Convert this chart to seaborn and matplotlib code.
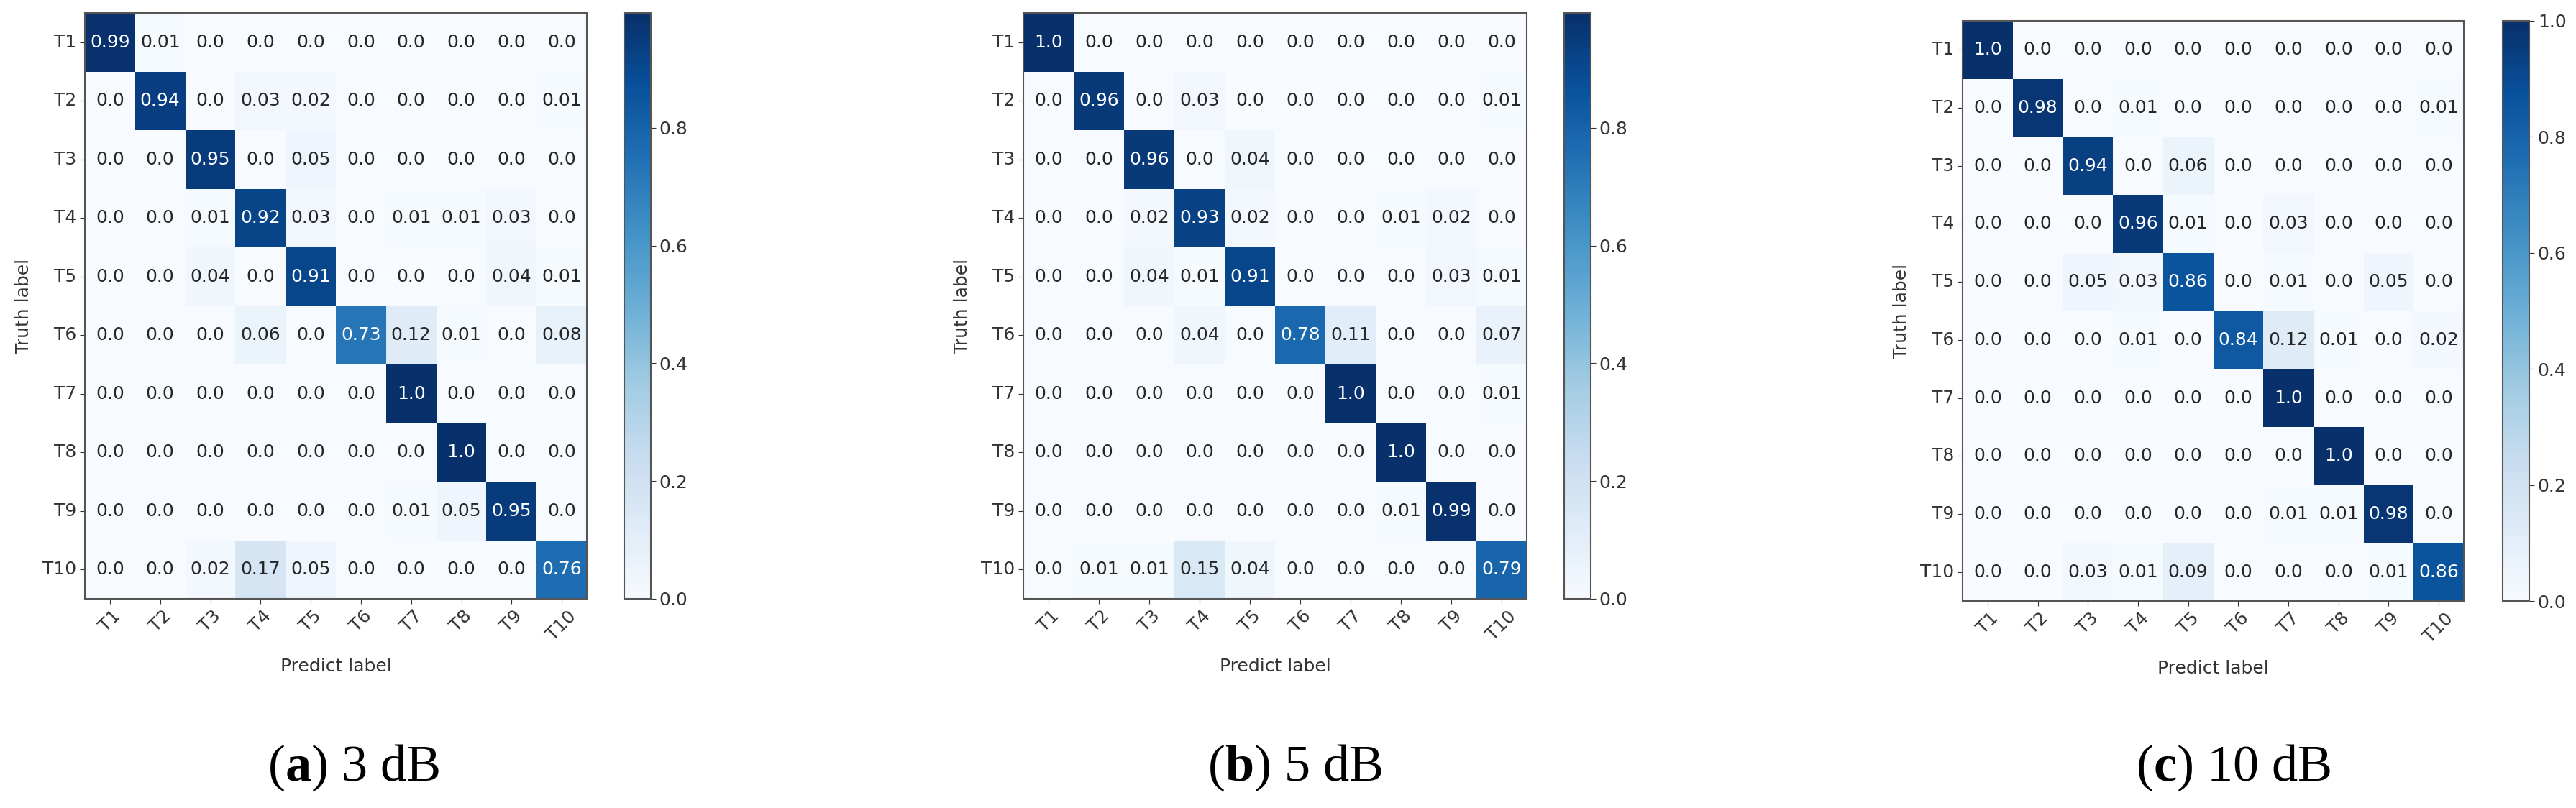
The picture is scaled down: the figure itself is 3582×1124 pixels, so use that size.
import numpy as np
import matplotlib
matplotlib.use("Agg")
import matplotlib.pyplot as plt
import seaborn as sns

classLabels = ["T1", "T2", "T3", "T4", "T5", "T6", "T7", "T8", "T9", "T10"]

# confusion matrices, rows = truth, cols = predicted
cm3dB = [
    [0.99, 0.01, 0.0, 0.0, 0.0, 0.0, 0.0, 0.0, 0.0, 0.0],
    [0.0, 0.94, 0.0, 0.03, 0.02, 0.0, 0.0, 0.0, 0.0, 0.01],
    [0.0, 0.0, 0.95, 0.0, 0.05, 0.0, 0.0, 0.0, 0.0, 0.0],
    [0.0, 0.0, 0.01, 0.92, 0.03, 0.0, 0.01, 0.01, 0.03, 0.0],
    [0.0, 0.0, 0.04, 0.0, 0.91, 0.0, 0.0, 0.0, 0.04, 0.01],
    [0.0, 0.0, 0.0, 0.06, 0.0, 0.73, 0.12, 0.01, 0.0, 0.08],
    [0.0, 0.0, 0.0, 0.0, 0.0, 0.0, 1.0, 0.0, 0.0, 0.0],
    [0.0, 0.0, 0.0, 0.0, 0.0, 0.0, 0.0, 1.0, 0.0, 0.0],
    [0.0, 0.0, 0.0, 0.0, 0.0, 0.0, 0.01, 0.05, 0.95, 0.0],
    [0.0, 0.0, 0.02, 0.17, 0.05, 0.0, 0.0, 0.0, 0.0, 0.76],
]

cm5dB = [
    [1.0, 0.0, 0.0, 0.0, 0.0, 0.0, 0.0, 0.0, 0.0, 0.0],
    [0.0, 0.96, 0.0, 0.03, 0.0, 0.0, 0.0, 0.0, 0.0, 0.01],
    [0.0, 0.0, 0.96, 0.0, 0.04, 0.0, 0.0, 0.0, 0.0, 0.0],
    [0.0, 0.0, 0.02, 0.93, 0.02, 0.0, 0.0, 0.01, 0.02, 0.0],
    [0.0, 0.0, 0.04, 0.01, 0.91, 0.0, 0.0, 0.0, 0.03, 0.01],
    [0.0, 0.0, 0.0, 0.04, 0.0, 0.78, 0.11, 0.0, 0.0, 0.07],
    [0.0, 0.0, 0.0, 0.0, 0.0, 0.0, 1.0, 0.0, 0.0, 0.01],
    [0.0, 0.0, 0.0, 0.0, 0.0, 0.0, 0.0, 1.0, 0.0, 0.0],
    [0.0, 0.0, 0.0, 0.0, 0.0, 0.0, 0.0, 0.01, 0.99, 0.0],
    [0.0, 0.01, 0.01, 0.15, 0.04, 0.0, 0.0, 0.0, 0.0, 0.79],
]

cm10dB = [
    [1.0, 0.0, 0.0, 0.0, 0.0, 0.0, 0.0, 0.0, 0.0, 0.0],
    [0.0, 0.98, 0.0, 0.01, 0.0, 0.0, 0.0, 0.0, 0.0, 0.01],
    [0.0, 0.0, 0.94, 0.0, 0.06, 0.0, 0.0, 0.0, 0.0, 0.0],
    [0.0, 0.0, 0.0, 0.96, 0.01, 0.0, 0.03, 0.0, 0.0, 0.0],
    [0.0, 0.0, 0.05, 0.03, 0.86, 0.0, 0.01, 0.0, 0.05, 0.0],
    [0.0, 0.0, 0.0, 0.01, 0.0, 0.84, 0.12, 0.01, 0.0, 0.02],
    [0.0, 0.0, 0.0, 0.0, 0.0, 0.0, 1.0, 0.0, 0.0, 0.0],
    [0.0, 0.0, 0.0, 0.0, 0.0, 0.0, 0.0, 1.0, 0.0, 0.0],
    [0.0, 0.0, 0.0, 0.0, 0.0, 0.0, 0.01, 0.01, 0.98, 0.0],
    [0.0, 0.0, 0.03, 0.01, 0.09, 0.0, 0.0, 0.0, 0.01, 0.86],
]

panelLetters = ["a", "b", "c"]
snrLabels = ["3 dB", "5 dB", "10 dB"]
cbarMax = [0.995, 0.995, 1.0]  # the first two colorbars stop just short of 1.0

plt.rcParams["font.family"] = ["DejaVu Sans"]
plt.rcParams["mathtext.fontset"] = "custom"
plt.rcParams["mathtext.rm"] = "Liberation Serif"
plt.rcParams["mathtext.bf"] = "Liberation Serif:bold"

W, H = 3582, 1124
fig = plt.figure(figsize=(W / 100, H / 100), dpi=100)

# pixel boxes (left, top, right, bottom) for each heatmap, and colorbar left edges
heatBoxes = [(118, 18, 816, 833), (1423, 18, 2123, 833), (2729, 29, 3426, 836)]
cbarLeft = [868, 2175, 3480]
cbarWidth = 37
captionX = [492, 1801, 3106]
textColor = "#333333"
frameColor = "#555555"
fontSize = 18


def toFig(x0, y0, x1, y1):
    return [x0 / W, 1 - y1 / H, (x1 - x0) / W, (y1 - y0) / H]


for i, cm in enumerate([cm3dB, cm5dB, cm10dB]):
    x0, y0, x1, y1 = heatBoxes[i]
    ax = fig.add_axes(toFig(x0, y0, x1, y1))
    cax = fig.add_axes(toFig(cbarLeft[i], y0, cbarLeft[i] + cbarWidth, y1))

    annot = [[str(v) for v in row] for row in cm]
    sns.heatmap(np.array(cm), ax=ax, cbar_ax=cax, cmap="Blues", vmin=0, vmax=cbarMax[i],
                annot=annot, fmt="", annot_kws={"fontsize": fontSize},
                xticklabels=classLabels, yticklabels=classLabels)

    ax.set_xlabel("Predict label", fontsize=fontSize, color=textColor, labelpad=14)
    ax.set_ylabel("Truth label", fontsize=fontSize, color=textColor, labelpad=10)
    ax.tick_params(length=5, labelsize=fontSize, colors=textColor)
    plt.setp(ax.get_xticklabels(), rotation=45, ha="center")
    plt.setp(ax.get_yticklabels(), rotation=0)
    for sp in ax.spines.values():  # seaborn hides these, the original has a frame
        sp.set_visible(True)
        sp.set_color(frameColor)
        sp.set_linewidth(1.5)

    cbar = ax.collections[0].colorbar
    cbar.outline.set_linewidth(1.5)
    cbar.outline.set_edgecolor(frameColor)
    cbar.set_ticks(np.arange(0, cbarMax[i] + 0.001, 0.2))
    cbar.ax.tick_params(labelsize=fontSize, length=5, colors=textColor)

    fig.text(captionX[i] / W, 1 - 1068 / H,
             "($\\mathbf{" + panelLetters[i] + "}$) " + snrLabels[i],
             family="Liberation Serif", fontsize=52, ha="center", va="center", color="black")

plt.savefig("out.png", dpi=100)
